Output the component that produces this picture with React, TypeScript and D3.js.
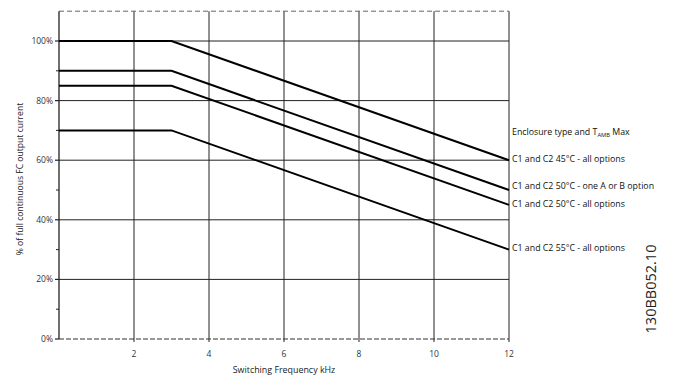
import React from "react";
import * as d3 from "d3";

const freqBreak = [0, 3, 12];
const series = [
  { label: "C1 and C2 45°C - all options", values: [100, 100, 60] },
  { label: "C1 and C2 50°C - one A or B option", values: [90, 90, 50] },
  { label: "C1 and C2 50°C - all options", values: [85, 85, 45] },
  { label: "C1 and C2 55°C - all options", values: [70, 70, 30] },
];
const xTicks = [2, 4, 6, 8, 10, 12];
const yTicks = [0, 20, 40, 60, 80, 100];
const yMinor = [10, 30, 50, 70, 90];
const labelShift = [0, -3, 0, -1];

export default function App() {
  const W = 675, H = 381;
  const x = d3.scaleLinear().domain([0, 12]).range([59, 509]);
  const y = d3.scaleLinear().domain([0, 100]).range([339, 41]);
  const line = d3.line<[number, number]>().x(d => x(d[0])).y(d => y(d[1]));
  const font = "'Open Sans', sans-serif";
  return (
    <svg width={W} height={H} style={{ position: "absolute", left: 0, top: 0, background: "#fff" }}>
      {yTicks.filter(t => t > 0).map(t => (
        <line key={"h" + t} x1={x(0)} x2={x(12)} y1={y(t)} y2={y(t)} stroke="#222" strokeWidth={1} />
      ))}
      {xTicks.map(t => (
        <line key={"v" + t} x1={x(t)} x2={x(t)} y1={y(110)} y2={y(0)} stroke="#222" strokeWidth={1} />
      ))}
      <line x1={x(0)} x2={x(12)} y1={y(110)} y2={y(110)} stroke="#666" strokeWidth={1} strokeDasharray="5,3" />
      <line x1={x(0)} x2={x(12)} y1={y(0)} y2={y(0)} stroke="#333" strokeWidth={1.2} strokeDasharray="5,2" />
      <line x1={x(0)} x2={x(0)} y1={y(110)} y2={y(0)} stroke="#222" strokeWidth={1.3} />
      {yTicks.map(t => (
        <g key={"yt" + t}>
          <line x1={x(0) - 4} x2={x(0)} y1={y(t)} y2={y(t)} stroke="#222" strokeWidth={1.2} />
          <text x={x(0) - 6} y={y(t)} dy="0.35em" textAnchor="end" fontFamily={font} fontSize={8.5} fill="#333">{t}%</text>
        </g>
      ))}
      {yMinor.map(t => (
        <line key={"ym" + t} x1={x(0) - 3} x2={x(0)} y1={y(t)} y2={y(t)} stroke="#222" strokeWidth={1} />
      ))}
      {xTicks.map(t => (
        <g key={"xt" + t}>
          <line x1={x(t)} x2={x(t)} y1={y(0)} y2={y(0) + 3} stroke="#222" strokeWidth={1} />
          <text x={x(t)} y={y(0) + 18} textAnchor="middle" fontFamily={font} fontSize={8.5} fill="#333">{t}</text>
        </g>
      ))}
      {series.map(s => (
        <path key={s.label} d={line(freqBreak.map((f, i) => [f, s.values[i]] as [number, number])) || ""}
          fill="none" stroke="#000" strokeWidth={2} />
      ))}
      {series.map((s, i) => (
        <text key={"l" + i} x={x(12) + 3} y={y(s.values[2]) - 1 + labelShift[i]} dy="0.35em"
          fontFamily={font} fontSize={8.8} fill="#111">{s.label}</text>
      ))}
      <text x={x(12) + 3} y={y(69.5)} dy="0.35em" fontFamily={font} fontSize={8.8} fill="#111">
        Enclosure type and T<tspan fontSize={5.8} dy="2">AMB</tspan><tspan dy="-2"> Max</tspan>
      </text>
      <text x={284} y={373} textAnchor="middle" fontFamily={font} fontSize={8.9} fill="#222">Switching Frequency kHz</text>
      <text transform={`translate(23,179) rotate(-90)`} textAnchor="middle" fontFamily={font} fontSize={8.6} fill="#222">
        % of full continuous FC output current
      </text>
      <text transform={`translate(656,289) rotate(-90)`} textAnchor="middle" fontFamily={font} fontSize={14.5} fill="#222">
        130BB052.10
      </text>
    </svg>
  );
}
